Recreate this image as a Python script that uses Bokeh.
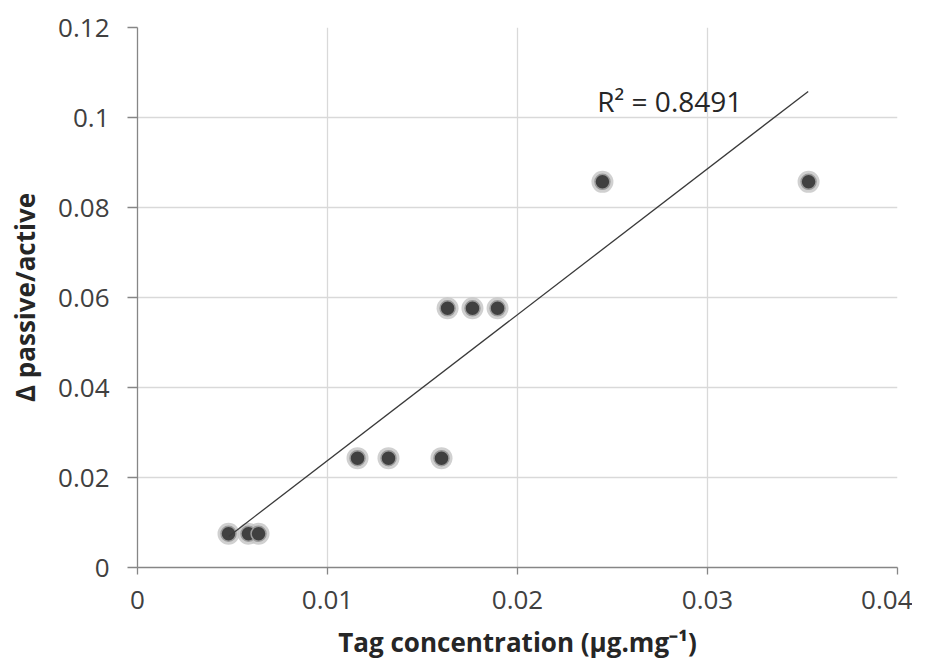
import numpy as np
from bokeh.plotting import figure
from bokeh.models import ColumnDataSource, FixedTicker, Range1d, Label
from bokeh.embed import file_html
from bokeh.resources import INLINE

# Data
tag_conc = [0.00479, 0.00584, 0.00637, 0.01158, 0.01321, 0.01600,
            0.01632, 0.01763, 0.01895, 0.02447, 0.03532]
delta_pa = [0.0075, 0.0075, 0.0075, 0.0243, 0.0243, 0.0243,
            0.0576, 0.0576, 0.0576, 0.0857, 0.0857]
# linear trendline end points
trend_x = [0.0048, 0.0353]
trend_y = [0.0069, 0.1058]
x_ticks = [0, 0.01, 0.02, 0.03, 0.04]
x_tick_labels = ["0", "0.01", "0.02", "0.03", "0.04"]
y_ticks = [0, 0.02, 0.04, 0.06, 0.08, 0.1, 0.12]
y_tick_labels = ["0", "0.02", "0.04", "0.06", "0.08", "0.1", "0.12"]
r2_text = "R\u00b2 = 0.8491"

FONT = "Open Sans"

p = figure(width=912, height=662, output_backend="svg", toolbar_location=None,
           x_range=Range1d(0, 0.04), y_range=Range1d(0, 0.12),
           min_border_left=137, min_border_right=15, min_border_top=27,
           min_border_bottom=95)
p.outline_line_color = None

# grid
for g in (p.xgrid, p.ygrid):
    g.grid_line_color = "#d9d9d9"
    g.grid_line_width = 1.3
p.xgrid.ticker = FixedTicker(ticks=x_ticks)
p.ygrid.ticker = FixedTicker(ticks=y_ticks)

# axes
p.xaxis.ticker = FixedTicker(ticks=x_ticks)
p.yaxis.ticker = FixedTicker(ticks=y_ticks)
p.xaxis.major_label_overrides = {t: l for t, l in zip(x_ticks, x_tick_labels)}
p.yaxis.major_label_overrides = {t: l for t, l in zip(y_ticks, y_tick_labels)}
for ax in (p.xaxis, p.yaxis):
    ax.axis_line_color = "#868686"
    ax.axis_line_width = 1.3
    ax.major_tick_line_color = "#868686"
    ax.major_tick_line_width = 1.3
    ax.major_tick_in = 0
    ax.minor_tick_line_color = None
    ax.major_label_text_font = FONT
    ax.major_label_text_font_size = "26px"
    ax.major_label_text_color = "#404040"
    ax.axis_label_text_font = FONT
    ax.axis_label_text_font_size = "26px"
    ax.axis_label_text_font_style = "bold"
    ax.axis_label_text_color = "#262626"
p.xaxis.major_tick_out = 7
p.yaxis.major_tick_out = 10
p.xaxis.major_label_standoff = 16
p.yaxis.major_label_standoff = 18
p.xaxis.axis_label = "Tag concentration (\u00b5g.mg\u207b\u00b9)"
p.yaxis.axis_label = "\u0394 passive/active"
p.xaxis.axis_label_standoff = 12
p.yaxis.axis_label_standoff = 12

src = ColumnDataSource(dict(x=tag_conc, y=delta_pa))
# soft halo
p.scatter("x", "y", source=src, size=22, fill_color="#c4c4c4", fill_alpha=0.8,
          line_color=None)
p.scatter("x", "y", source=src, size=15, fill_color="#404040",
          line_color="#9a9a9a", line_width=1.5)

# trendline (drawn above the markers)
p.line(trend_x, trend_y, line_color="#3a3a3a", line_width=1.3)

p.add_layout(Label(x=0.0242, y=0.1036, text=r2_text, text_font=FONT,
                   text_font_size="28px", text_color="#262626",
                   text_baseline="middle", text_align="left"))

open("out.html", "w").write(file_html(p, INLINE))
